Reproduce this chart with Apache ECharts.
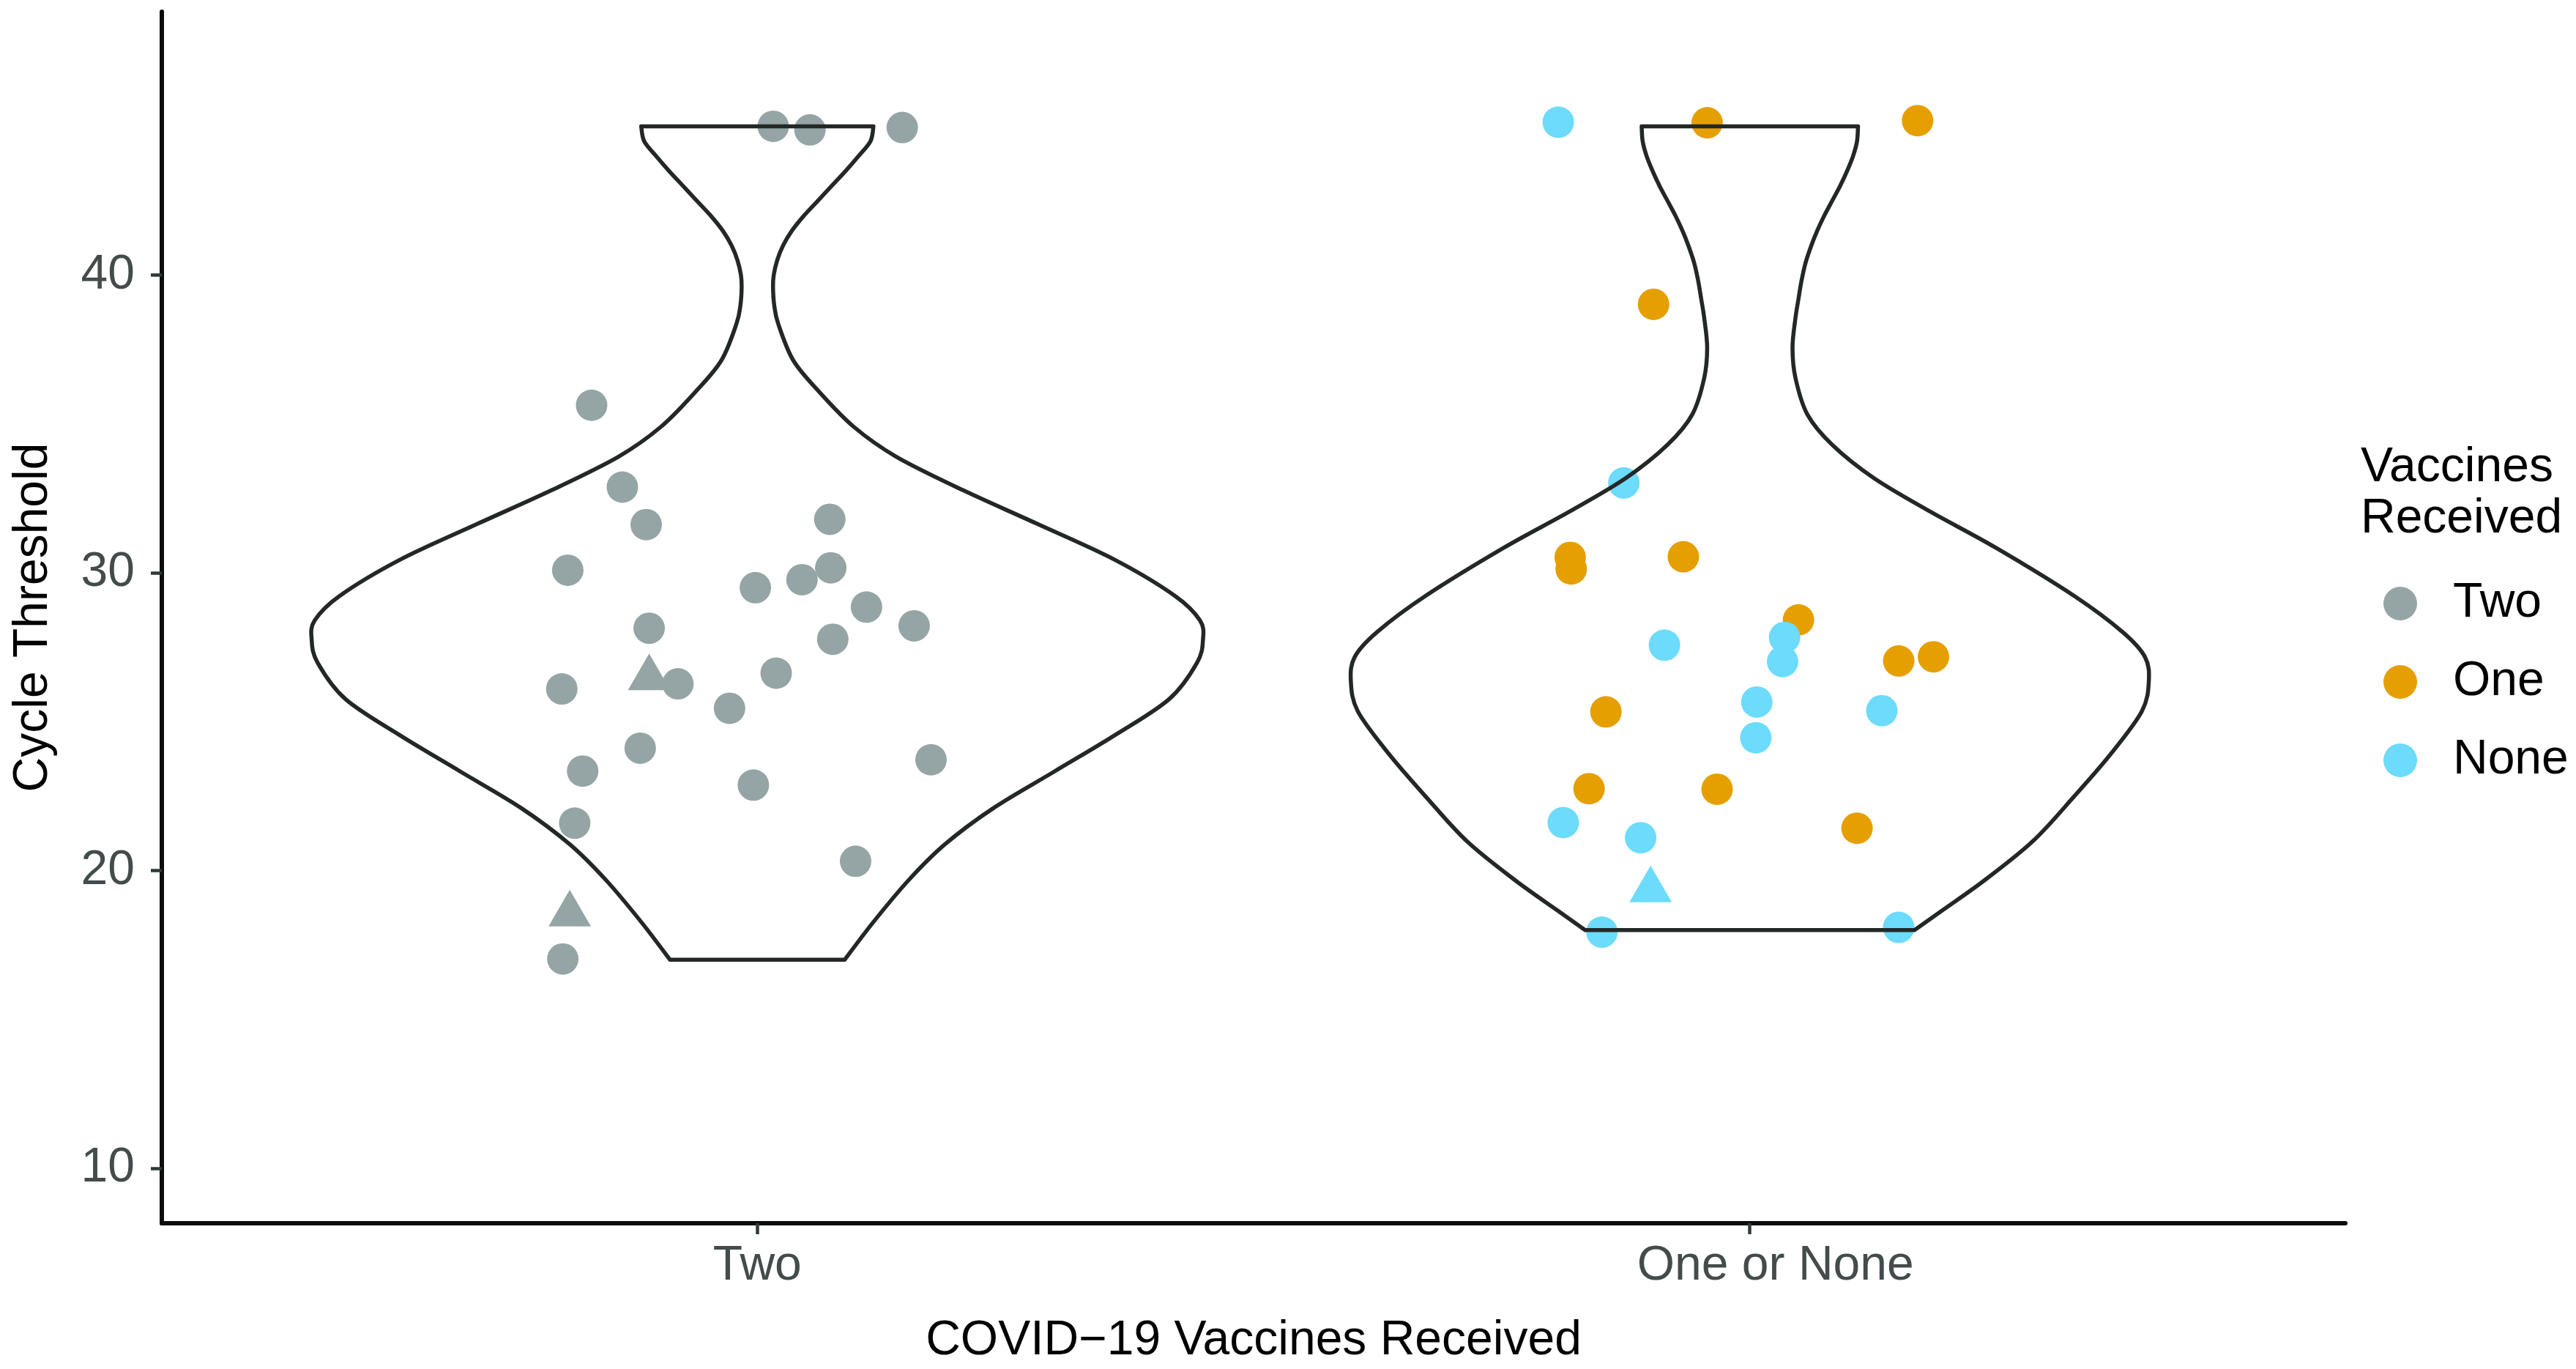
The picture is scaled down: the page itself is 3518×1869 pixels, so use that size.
<!DOCTYPE html>
<html>
<head>
<meta charset="utf-8">
<script src="https://cdn.jsdelivr.net/npm/echarts@6/dist/echarts.min.js"></script>
<style>
html,body{margin:0;padding:0;background:#ffffff;}
#chart{width:3518px;height:1869px;}
</style>
</head>
<body>
<div id="chart"></div>
<script>
// ---------- data ----------
const categories = ['Two', 'One or None'];
const categoryPositions = [1, 2];
const yTicks = [10, 20, 30, 40];
const legendNames = ['Two', 'One', 'None'];
const groupColors = ['#95A5A6', '#E69F00', '#6CDBFC'];

// violin outline: Ct value and half-width (in category units)
const violinTwoY    = [45.0, 44.5, 44.0, 43.5, 43.0, 42.5, 42.0, 41.5, 41.0, 40.5, 40.0, 39.6, 39.0, 38.37, 37.15, 36.13, 34.91, 33.9, 32.78, 31.66, 30.44, 29.22, 28.40, 27.75, 26.98, 25.76, 24.54, 23.32, 22.1, 20.88, 19.66, 18.23, 17.0];
const violinTwoHalf = [0.117, 0.114, 0.102, 0.089, 0.075, 0.061, 0.047, 0.035, 0.026, 0.020, 0.0165, 0.0158, 0.017, 0.021, 0.036, 0.061, 0.097, 0.140, 0.207, 0.281, 0.360, 0.421, 0.446, 0.449, 0.443, 0.415, 0.360, 0.299, 0.238, 0.189, 0.152, 0.116, 0.088];
const violinOneNoneY    = [45.0, 44.5, 44.0, 43.5, 43.0, 42.5, 42.0, 41.5, 41.0, 40.4, 39.8, 39.2, 38.57, 37.56, 36.54, 35.32, 34.3, 33.18, 32.07, 30.84, 29.22, 28.0, 27.18, 26.37, 25.35, 23.93, 22.5, 20.98, 19.66, 18.64, 18.0];
const violinOneNoneHalf = [0.109, 0.108, 0.104, 0.098, 0.091, 0.083, 0.075, 0.068, 0.062, 0.056, 0.052, 0.049, 0.046, 0.043, 0.046, 0.058, 0.083, 0.125, 0.181, 0.248, 0.327, 0.376, 0.398, 0.402, 0.395, 0.364, 0.327, 0.285, 0.236, 0.193, 0.166];

// jittered points: [x position, cycle threshold]
const twoPoints = [
  [1.016, 45.0], [1.053, 44.88], [1.146, 44.96], [0.833, 35.63], [0.864, 32.88],
  [0.888, 31.62], [1.073, 31.80], [0.809, 30.09], [0.998, 29.50], [1.045, 29.77],
  [1.074, 30.17], [1.110, 28.85], [1.158, 28.22], [0.891, 28.14], [1.076, 27.77],
  [1.019, 26.63], [0.803, 26.10], [0.920, 26.27], [0.972, 25.45], [0.882, 24.11],
  [0.824, 23.34], [0.996, 22.87], [1.175, 23.72], [0.816, 21.59], [1.099, 20.31],
  [0.804, 17.03]
];
const twoTriangles = [[0.891, 26.67], [0.811, 18.74]];
const onePoints = [
  [1.957, 45.12], [2.169, 45.19], [1.903, 39.02], [1.819, 30.52], [1.820, 30.13],
  [1.933, 30.54], [2.049, 28.42], [2.150, 27.04], [2.185, 27.18], [1.855, 25.33],
  [1.838, 22.75], [1.967, 22.73], [2.108, 21.42]
];
const nonePoints = [
  [1.807, 45.14], [1.873, 33.02], [1.914, 27.57], [2.035, 27.83], [2.033, 27.02],
  [2.007, 25.66], [2.006, 24.46], [2.133, 25.37], [1.812, 21.61], [1.890, 21.10],
  [1.851, 17.93], [2.150, 18.09]
];
const noneTriangles = [[1.900, 19.55]];

// ---------- chart ----------
const FONT = '"Liberation Sans", Arial, Helvetica, sans-serif';
const TICK_TEXT = '#434B4B';
const violinProfiles = [
  {y: violinTwoY, half: violinTwoHalf},
  {y: violinOneNoneY, half: violinOneNoneHalf}
];

const chart = echarts.init(document.getElementById('chart'), null, {renderer: 'canvas'});

// smooth curve through screen points (Catmull-Rom as cubic Bezier), continuing an existing path
function curveSegments(pts) {
  let d = '';
  for (let i = 0; i < pts.length - 1; i++) {
    const p0 = pts[Math.max(i - 1, 0)], p1 = pts[i], p2 = pts[i + 1], p3 = pts[Math.min(i + 2, pts.length - 1)];
    const c1x = p1[0] + (p2[0] - p0[0]) / 6, c1y = p1[1] + (p2[1] - p0[1]) / 6;
    const c2x = p2[0] - (p3[0] - p1[0]) / 6, c2y = p2[1] - (p3[1] - p1[1]) / 6;
    d += ' C' + c1x + ',' + c1y + ' ' + c2x + ',' + c2y + ' ' + p2[0] + ',' + p2[1];
  }
  return d;
}

function violinRender(params, api) {
  const pos = api.value(0);
  const prof = violinProfiles[params.dataIndex];
  const left = prof.y.map((y, i) => api.coord([pos - prof.half[i], y]));
  const right = prof.y.map((y, i) => api.coord([pos + prof.half[i], y]));
  const n = left.length;
  let d = 'M' + left[0][0] + ',' + left[0][1] + ' L' + right[0][0] + ',' + right[0][1];
  d += curveSegments(right);
  d += ' L' + left[n - 1][0] + ',' + left[n - 1][1];
  d += curveSegments(left.slice().reverse());
  d += ' Z';
  return {
    type: 'path',
    shape: {pathData: d},
    style: {stroke: '#232826', lineWidth: 5.5, fill: null, lineJoin: 'round', lineCap: 'round'}
  };
}

const option = {
  animation: false,
  backgroundColor: '#ffffff',
  grid: {left: 221, right: 315, top: 16, bottom: 194, containLabel: false},
  xAxis: {
    type: 'value', min: 0.4, max: 2.6,
    splitLine: {show: false},
    axisLine: {show: true, onZero: false, lineStyle: {color: '#0A0D0C', width: 6}},
    axisTick: {show: true, customValues: categoryPositions, length: 15, lineStyle: {color: '#2F3A38', width: 4.5}},
    axisLabel: {
      show: true, customValues: categoryPositions, margin: 26,
      formatter: v => (Math.round(v) === 2 ? '{r|' + categories[1] + '}' : '{c|' + categories[0] + '}'),
      color: TICK_TEXT, fontSize: 66, fontFamily: FONT,
      rich: {
        c: {color: TICK_TEXT, fontSize: 66, fontFamily: FONT},
        r: {color: TICK_TEXT, fontSize: 66, fontFamily: FONT, padding: [0, 0, 0, 70]}
      }
    },
    name: 'COVID\u221219 Vaccines Received', nameLocation: 'middle', nameGap: 128,
    nameTextStyle: {color: '#000000', fontSize: 66, fontFamily: FONT}
  },
  yAxis: {
    type: 'value', min: 8.15, max: 48.85,
    splitLine: {show: false},
    axisLine: {show: true, onZero: false, lineStyle: {color: '#0A0D0C', width: 6}},
    axisTick: {show: true, customValues: yTicks, length: 15, lineStyle: {color: '#2F3A38', width: 4.5}},
    axisLabel: {
      show: true, customValues: yTicks, margin: 37,
      color: TICK_TEXT, fontSize: 66, fontFamily: FONT
    },
    name: 'Cycle Threshold', nameLocation: 'middle', nameGap: 142, nameRotate: 90,
    nameTextStyle: {color: '#000000', fontSize: 66, fontFamily: FONT}
  },
  legend: {
    data: legendNames, orient: 'vertical', left: 3250, top: 786,
    icon: 'circle', itemWidth: 46, itemHeight: 46, itemGap: 41,
    textStyle: {color: '#000000', fontSize: 66, fontFamily: FONT, lineHeight: 46, padding: [0, 0, 0, 44]}
  },
  graphic: [{
    type: 'text', left: 3224, top: 604,
    style: {text: 'Vaccines\nReceived', fill: '#000000', fontSize: 66, fontFamily: FONT, lineHeight: 70}
  }],
  series: [
    {name: 'Two', type: 'scatter', data: twoPoints, symbol: 'circle', symbolSize: 43, itemStyle: {color: groupColors[0], opacity: 1}, z: 2},
    {name: 'One', type: 'scatter', data: onePoints, symbol: 'circle', symbolSize: 43, itemStyle: {color: groupColors[1], opacity: 1}, z: 2},
    {name: 'None', type: 'scatter', data: nonePoints, symbol: 'circle', symbolSize: 43, itemStyle: {color: groupColors[2], opacity: 1}, z: 2},
    {name: 'Two (triangle)', type: 'scatter', data: twoTriangles, symbol: 'triangle', symbolSize: [58, 50], itemStyle: {color: groupColors[0], opacity: 1}, z: 2},
    {name: 'None (triangle)', type: 'scatter', data: noneTriangles, symbol: 'triangle', symbolSize: [58, 50], itemStyle: {color: groupColors[2], opacity: 1}, z: 2},
    {
      name: 'violin', type: 'custom', renderItem: violinRender,
      data: [[categoryPositions[0], 45], [categoryPositions[1], 45]],
      encode: {x: 0, y: 1}, z: 5, silent: true
    }
  ]
};
chart.setOption(option);
</script>
</body>
</html>
